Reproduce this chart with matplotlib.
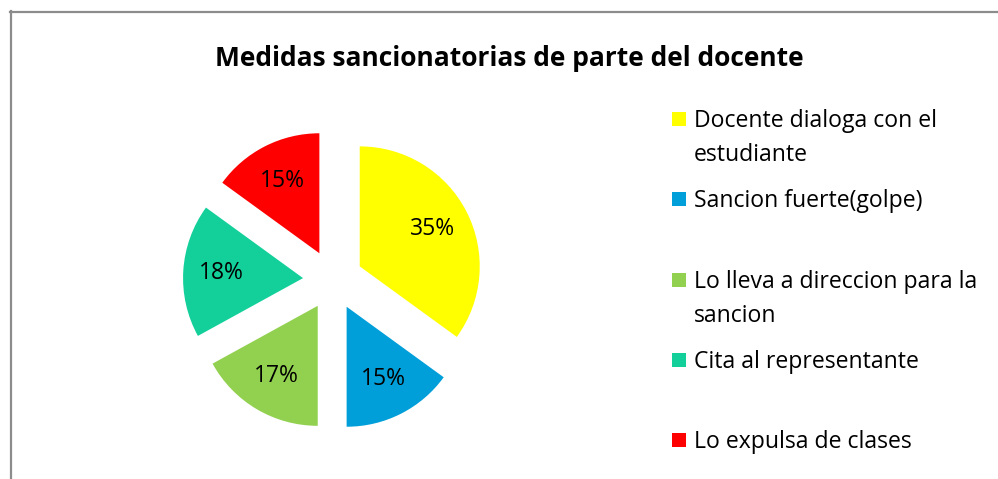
import matplotlib
matplotlib.use("Agg")
import matplotlib.pyplot as plt
from matplotlib.lines import Line2D
from matplotlib.patches import Rectangle

plt.rcParams['font.family'] = ['Open Sans', 'DejaVu Sans']

title = "Medidas sancionatorias de parte del docente"
categories = ["Docente dialoga con el\nestudiante", "Sancion fuerte(golpe)",
              "Lo lleva a direccion para la\nsancion", "Cita al representante",
              "Lo expulsa de clases"]
values = [35, 15, 17, 18, 15]
colors = ["#FFFF00", "#009FDA", "#92D050", "#13D09B", "#FF0000"]

W, H = 998, 479
fig = plt.figure(figsize=(W / 100, H / 100), dpi=100)

# chart border
fig.add_artist(Line2D([10.5 / W, 10.5 / W], [0, 1 - 11 / H], color="#8C8C8C", lw=1.6))
fig.add_artist(Line2D([10 / W, 1], [1 - 11.5 / H, 1 - 11.5 / H], color="#8C8C8C", lw=1.6))

fig.text(509 / W, 1 - 66 / H, title, ha="center", va="baseline",
         fontsize=19, fontweight="bold", color="black")

# pie axes: center (333,280), radius 120 px
cx, cy, half = 333, 280, 160
ax = fig.add_axes([(cx - half) / W, 1 - (cy + half) / H, 2 * half / W, 2 * half / H])
ax.pie(values, colors=colors, startangle=90, counterclock=False,
       explode=[0.25] * len(values), radius=1,
       autopct=lambda p: f"{p:.0f}%", pctdistance=0.68,
       textprops=dict(fontsize=16.5, color="black"),
       wedgeprops=dict(linewidth=0))
ax.set_xlim(-half / 120, half / 120)
ax.set_ylim(-half / 120, half / 120)
ax.set_aspect("equal")
ax.axis("off")

# legend (manual, Excel-like spacing)
y0 = 119
for i, (lab, col) in enumerate(zip(categories, colors)):
    y = y0 + i * 80.3
    fig.add_artist(Rectangle((672 / W, 1 - (y + 7) / H), 14 / W, 14 / H,
                             facecolor=col, edgecolor="none"))
    for k, line in enumerate(lab.split("\n")):
        fig.text(694 / W, 1 - (y + 8 + 34 * k) / H, line, ha="left", va="baseline",
                 fontsize=16.6, color="black")

fig.savefig("out.png", dpi=100)
